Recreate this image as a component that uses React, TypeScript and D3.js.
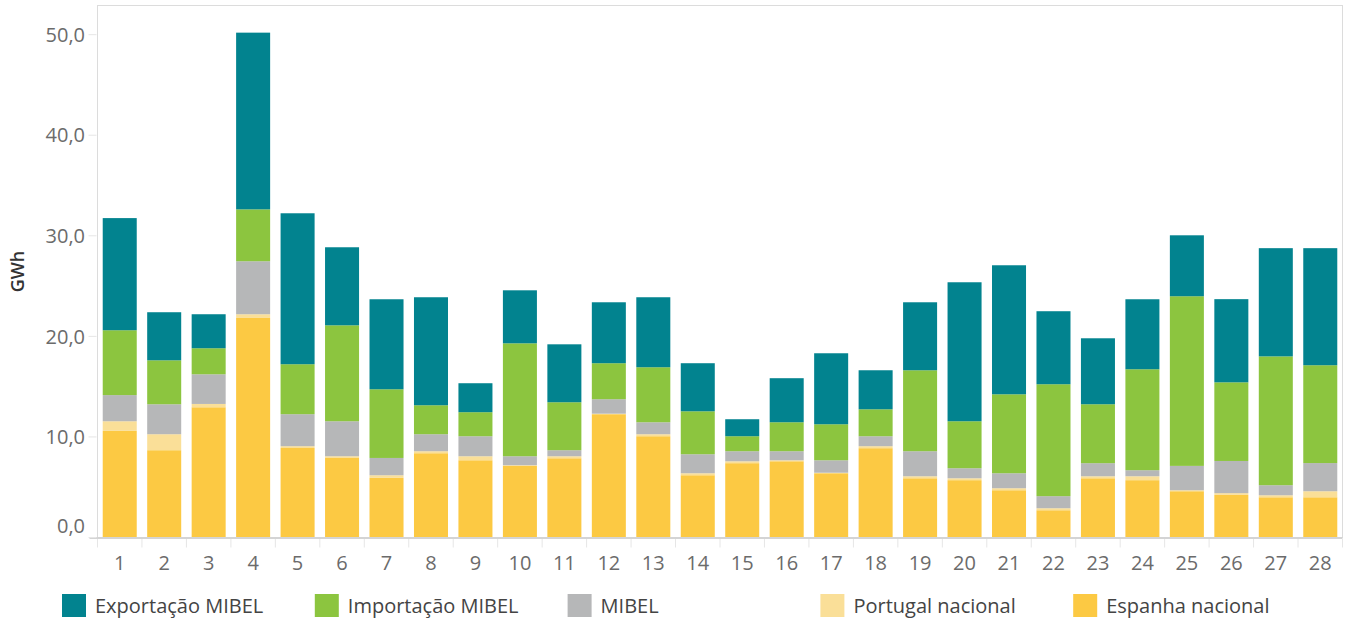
import { useEffect, useRef } from 'react';
import * as d3 from 'd3';

const days = ['1', '2', '3', '4', '5', '6', '7', '8', '9', '10', '11', '12', '13', '14',
  '15', '16', '17', '18', '19', '20', '21', '22', '23', '24', '25', '26', '27', '28'];

const espanhaNacional = [10.6, 8.68, 12.95, 21.83, 8.9, 7.91, 5.93, 8.38, 7.68, 7.12, 7.88, 12.26, 10.07, 6.19,
  7.39, 7.58, 6.39, 8.88, 5.89, 5.7, 4.7, 2.71, 5.89, 5.7, 4.6, 4.24, 4.0, 4.0];
const portugalNacional = [0.96, 1.59, 0.33, 0.37, 0.18, 0.17, 0.26, 0.2, 0.4, 0.07, 0.2, 0.05, 0.2, 0.2,
  0.19, 0.1, 0.05, 0.2, 0.2, 0.19, 0.2, 0.2, 0.2, 0.39, 0.1, 0.17, 0.2, 0.6];
const mibel = [2.6, 2.98, 2.95, 5.27, 3.18, 3.48, 1.72, 1.69, 1.99, 0.89, 0.6, 1.44, 1.19, 1.89,
  1.0, 0.9, 1.24, 0.99, 2.49, 1.0, 1.49, 1.2, 1.3, 0.6, 2.42, 3.2, 1.0, 2.8];
const importacaoMibel = [6.45, 4.37, 2.59, 5.16, 4.97, 9.54, 6.83, 2.88, 2.39, 11.23, 4.77, 3.58, 5.47, 4.27,
  1.49, 2.88, 3.58, 2.68, 8.05, 4.67, 7.85, 11.13, 5.86, 10.04, 16.87, 7.82, 12.81, 9.73];
const exportacaoMibel = [11.15, 4.78, 3.38, 17.57, 15.01, 7.76, 8.95, 10.74, 2.88, 5.27, 5.76, 6.06, 6.96, 4.78,
  1.69, 4.38, 7.06, 3.88, 6.76, 13.82, 12.83, 7.26, 6.56, 6.96, 6.06, 8.27, 10.76, 11.64];

const yTicks = [0, 10, 20, 30, 40, 50];

const seriesKeys = ['espanha', 'portugal', 'mibel', 'importacao', 'exportacao'];
const legendOrder = ['exportacao', 'importacao', 'mibel', 'portugal', 'espanha'];
const seriesLabels: Record<string, string> = {
  exportacao: 'Exportação MIBEL',
  importacao: 'Importação MIBEL',
  mibel: 'MIBEL',
  portugal: 'Portugal nacional',
  espanha: 'Espanha nacional',
};
const seriesColors: Record<string, string> = {
  exportacao: '#02838f',
  importacao: '#8cc53f',
  mibel: '#b6b7b8',
  portugal: '#fadf98',
  espanha: '#fcc943',
};

const FONT = '"Open Sans", "Noto Sans", sans-serif';

const App = () => {
  const ref = useRef<SVGSVGElement | null>(null);
  const width = 1349;
  const height = 620;

  useEffect(() => {
    if (!ref.current) return;
    const svg = d3.select(ref.current);
    svg.selectAll('*').remove();

    const left = 97.5;
    const right = 1342.5;
    const top = 5.5;
    const bottom = 537.5;

    const rows = days.map((day, i) => ({
      day,
      espanha: espanhaNacional[i],
      portugal: portugalNacional[i],
      mibel: mibel[i],
      importacao: importacaoMibel[i],
      exportacao: exportacaoMibel[i],
    }));

    const xScale = d3
      .scaleBand()
      .domain(days)
      .range([left, right])
      .paddingInner(0.235)
      .paddingOuter(0.1175);

    const yScale = d3.scaleLinear().domain([0, 52.9]).range([bottom, top]);

    const stacked = d3.stack<any>().keys(seriesKeys)(rows);

    // frame
    svg
      .append('rect')
      .attr('x', left)
      .attr('y', top)
      .attr('width', right - left)
      .attr('height', bottom - top)
      .attr('fill', 'none')
      .attr('stroke', '#dcdcdc')
      .attr('stroke-width', 1);

    // bars
    svg
      .append('g')
      .selectAll('g')
      .data(stacked)
      .enter()
      .append('g')
      .attr('fill', (s) => seriesColors[s.key])
      .selectAll('rect')
      .data((s) => s)
      .enter()
      .append('rect')
      .attr('x', (d) => xScale(d.data.day) ?? 0)
      .attr('y', (d) => yScale(d[1]))
      .attr('width', xScale.bandwidth())
      .attr('height', (d) => Math.max(0, yScale(d[0]) - yScale(d[1])));

    // x axis line
    svg
      .append('line')
      .attr('x1', left - 8)
      .attr('x2', right)
      .attr('y1', bottom + 0.5)
      .attr('y2', bottom + 0.5)
      .attr('stroke', '#d4d4d4')
      .attr('stroke-width', 2);

    // x tick marks at band boundaries
    const step = xScale.step();
    const boundaries = days.map((_, i) => left + i * step).concat([right]);
    svg
      .append('g')
      .selectAll('line')
      .data(boundaries)
      .enter()
      .append('line')
      .attr('x1', (d) => d)
      .attr('x2', (d) => d)
      .attr('y1', bottom + 1.5)
      .attr('y2', bottom + 10)
      .attr('stroke', '#e6e6e6')
      .attr('stroke-width', 1);

    svg
      .append('g')
      .selectAll('text')
      .data(days)
      .enter()
      .append('text')
      .attr('x', (d) => (xScale(d) ?? 0) + xScale.bandwidth() / 2)
      .attr('y', 570)
      .attr('text-anchor', 'middle')
      .attr('font-family', FONT)
      .attr('font-size', 20)
      .attr('fill', '#6b6b6b')
      .text((d) => d);

    // y ticks
    const fmt = (v: number) => d3.format('.1f')(v).replace('.', ',');
    const yAxis = svg.append('g');
    yAxis
      .selectAll('line')
      .data(yTicks)
      .enter()
      .append('line')
      .attr('x1', left - 9)
      .attr('x2', left - 1)
      .attr('y1', (d) => yScale(d))
      .attr('y2', (d) => yScale(d))
      .attr('stroke', '#e6e6e6')
      .attr('stroke-width', 1);
    yAxis
      .selectAll('text')
      .data(yTicks)
      .enter()
      .append('text')
      .attr('x', 85)
      .attr('y', (d) => yScale(d) + (d === 0 ? -12 : 0))
      .attr('dy', '0.36em')
      .attr('text-anchor', 'end')
      .attr('font-family', FONT)
      .attr('font-size', 20)
      .attr('fill', '#6b6b6b')
      .text((d) => fmt(d));

    svg
      .append('text')
      .attr('transform', `translate(24, ${(top + bottom) / 2}) rotate(-90)`)
      .attr('text-anchor', 'middle')
      .attr('font-family', FONT)
      .attr('font-size', 18)
      .attr('font-weight', 600)
      .attr('fill', '#333333')
      .text('GWh');

    // legend
    const legend = svg
      .append('g')
      .selectAll('g')
      .data(legendOrder)
      .enter()
      .append('g')
      .attr('transform', (_, i) => `translate(${62 + i * 252.8}, 594)`);
    legend
      .append('rect')
      .attr('width', 24)
      .attr('height', 23)
      .attr('fill', (d) => seriesColors[d]);
    legend
      .append('text')
      .attr('x', 33)
      .attr('y', 12)
      .attr('dy', '0.36em')
      .attr('font-family', FONT)
      .attr('font-size', 20)
      .attr('fill', '#444444')
      .text((d) => seriesLabels[d]);
  }, []);

  return (
    <svg
      ref={ref}
      width={width}
      height={height}
      viewBox={`0 0 ${width} ${height}`}
      style={{ position: 'absolute', left: 0, top: 0, background: '#ffffff' }}
      role="img"
      aria-label="Energia por dia"
    />
  );
};

export default App;
